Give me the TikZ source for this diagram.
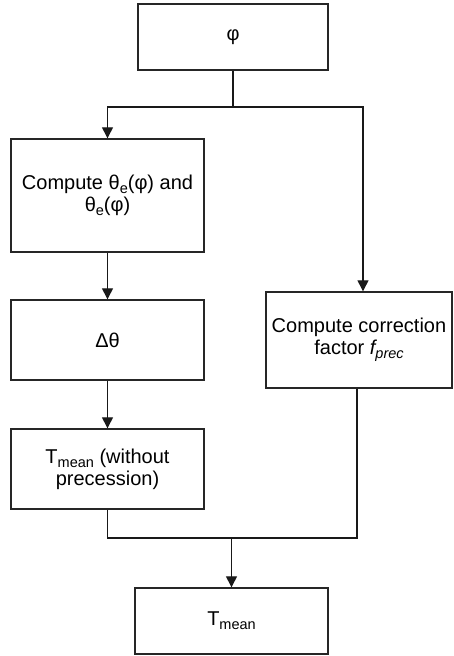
\documentclass[tikz,border=0pt]{standalone}
\usepackage{fontspec}
\setmainfont{Liberation Sans}
\usetikzlibrary{arrows.meta}
\newcommand\mysub[1]{\raisebox{-4pt}{\fontsize{14.5}{14.5}\selectfont #1}}
\begin{document}
\begin{tikzpicture}[x=1pt,y=-1pt,
  box/.style={draw=black!85, line width=1.4pt, fill=white, inner sep=0pt, align=center,
    font=\fontsize{20}{22}\selectfont},
  conn/.style={draw=black!90, line width=1.3pt},
  arr/.style={conn, -{Triangle[width=11pt,length=11pt]}}]
\useasboundingbox (0,0) rectangle (453,656);
\node[box, minimum width=190pt, minimum height=66pt] (phi) at (233,37) {φ};
\node[box, minimum width=193pt, minimum height=113pt] (comp) at (107.5,195.5)
  {Compute θ\mysub{e}(φ) and\\θ\mysub{e}(φ)};
\node[box, minimum width=193pt, minimum height=80pt] (dth) at (107.5,340) {Δθ};
\node[box, minimum width=193pt, minimum height=80pt] (tm1) at (107.5,469)
  {T\mysub{mean} (without\\precession)};
\node[box, minimum width=186pt, minimum height=96pt] (corr) at (359,340)
  {Compute correction\\factor \textit{f\mysub{prec}}};
\node[box, minimum width=193pt, minimum height=66pt] (tmean) at (231.5,621) {T\mysub{mean}};
\coordinate (jt) at (233,107);
\coordinate (jb) at (231.5,538);
\draw[conn] (phi.south) -- (jt);
\draw[arr] (jt) -| (comp.north);
\draw[arr] (jt) -| ([xshift=4pt]corr.north);
\draw[arr] (comp.south) -- (dth.north);
\draw[arr] (dth.south) -- (tm1.north);
\draw[conn] (tm1.south) |- (jb);
\draw[conn] ([xshift=-2pt]corr.south) |- (jb);
\draw[arr] (jb) -- (tmean.north);
\end{tikzpicture}
\end{document}
